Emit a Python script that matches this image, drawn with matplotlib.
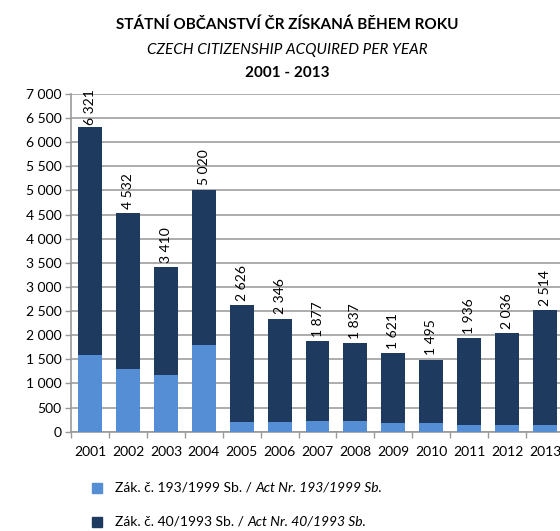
import matplotlib.pyplot as plt
import numpy as np

plt.rcParams['font.family'] = ['Lato', 'DejaVu Sans']

years = ['2001', '2002', '2003', '2004', '2005', '2006', '2007',
         '2008', '2009', '2010', '2011', '2012', '2013']
totals = [6321, 4532, 3410, 5020, 2626, 2346, 1877, 1837, 1621, 1495, 1936, 2036, 2514]
act_1999 = [1600, 1290, 1170, 1800, 200, 200, 228, 228, 175, 175, 145, 145, 145]
act_1993 = [t - a for t, a in zip(totals, act_1999)]

light = '#558ED5'
dark = '#1F3A5F'

fig = plt.figure(figsize=(5.6, 5.31), dpi=100)
ax = fig.add_axes([0.127, 0.187, 0.88, 0.636])

x = np.arange(len(years))
b1 = ax.bar(x, act_1999, width=0.63, color=light, zorder=3)
b2 = ax.bar(x, act_1993, width=0.63, bottom=act_1999, color=dark, zorder=3)

for xi, t in zip(x, totals):
    lab = f'{t:,}'.replace(',', ' ')
    ax.annotate(lab, (xi, min(t, 6280)), xytext=(0, 3), textcoords='offset points',
                rotation=90, ha='center', va='bottom', fontsize=10, zorder=4)

ax.set_xlim(-0.5, len(years) - 0.5)
ax.set_ylim(0, 7000)
ax.set_yticks(np.arange(0, 7001, 500))
ax.set_yticklabels([f'{v:,}'.replace(',', ' ') for v in range(0, 7001, 500)], fontsize=10)
ax.set_xticks(x)
ax.set_xticklabels(years, fontsize=10)
ax.set_xticks(np.arange(-0.5, len(years), 1), minor=True)
ax.tick_params(axis='x', which='major', length=0, pad=10)
ax.tick_params(axis='x', which='minor', length=4, color='#999999', width=1)
ax.tick_params(axis='y', length=4, color='#999999', width=1, pad=3)

ax.yaxis.grid(True, color='#A6A6A6', linewidth=1.3, zorder=0)
for s in ['top', 'right']:
    ax.spines[s].set_visible(False)
for s in ['left', 'bottom']:
    ax.spines[s].set_color('#999999')
    ax.spines[s].set_linewidth(1.2)

fig.text(0.513, 0.953, 'STÁTNÍ OBČANSTVÍ ČR ZÍSKANÁ BĚHEM ROKU', ha='center', va='center',
         fontsize=11, fontweight='bold')
fig.text(0.513, 0.906, 'CZECH CITIZENSHIP ACQUIRED PER YEAR', ha='center', va='center',
         fontsize=11, style='italic')
fig.text(0.513, 0.862, '2001 - 2013', ha='center', va='center',
         fontsize=11, fontweight='bold')

# legend drawn by hand (mixed upright / italic text)
legend_rows = [
    (light, 'Zák. č. 193/1999 Sb. / ', 'Act Nr. 193/1999 Sb.', 488),
    (dark, 'Zák. č. 40/1993 Sb. / ', 'Act Nr. 40/1993 Sb.', 522),
]
for col, normal, italic, ypx in legend_rows:
    yf = 1 - ypx / 531
    fig.patches.append(plt.Rectangle((92 / 560, yf - 5 / 531), 10 / 560, 10 / 531,
                                     transform=fig.transFigure, color=col))
    t = fig.text(115 / 560, yf, normal, ha='left', va='center', fontsize=10)
    fig.add_artist(plt.Annotation(italic, xy=(1, 0.5), xycoords=t, va='center', ha='left',
                                  fontsize=10, style='italic'))

fig.savefig('out.png', dpi=100)
